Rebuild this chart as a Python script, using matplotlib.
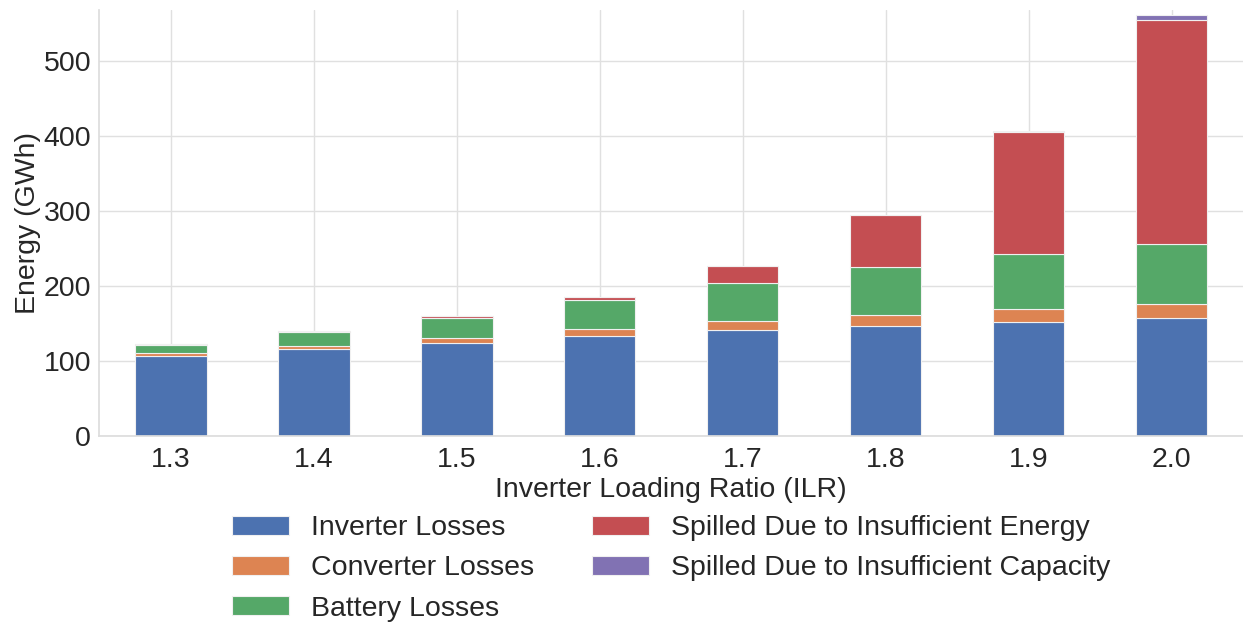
import matplotlib
matplotlib.use("Agg")
import matplotlib.pyplot as plt
import seaborn as sns
import numpy as np

sns.set_theme(style="whitegrid", palette="deep")
plt.rcParams['font.family'] = ['Liberation Sans', 'DejaVu Sans']

ilr = ["1.3", "1.4", "1.5", "1.6", "1.7", "1.8", "1.9", "2.0"]
inverter_losses = [107.5, 116, 124, 133.7, 140.9, 146.7, 152.4, 157]
converter_losses = [4, 4.4, 7, 9.3, 12.4, 15.3, 17.4, 19.4]
battery_losses = [10.5, 18.3, 25.9, 37.9, 50.7, 63, 72.9, 80]
spilled_energy = [0.5, 1.3, 3.1, 5.1, 22.7, 70, 163, 298.6]
spilled_capacity = [0, 0, 0, 0, 0, 0, 0.5, 6]

series = [
    ("Inverter Losses", inverter_losses),
    ("Converter Losses", converter_losses),
    ("Battery Losses", battery_losses),
    ("Spilled Due to Insufficient Energy", spilled_energy),
    ("Spilled Due to Insufficient Capacity", spilled_capacity),
]
colors = sns.color_palette("deep")

fig, ax = plt.subplots(figsize=(12.43, 6.24), dpi=100)
fig.subplots_adjust(left=0.08, right=1.0, top=0.984, bottom=0.301)

x = np.arange(len(ilr))
bottom = np.zeros(len(ilr))
for i, (name, vals) in enumerate(series):
    ax.bar(x, vals, width=0.5, bottom=bottom, color=colors[i], label=name,
           edgecolor="#f0f0f0", linewidth=0.8)
    bottom += np.array(vals)

fs = 20.5
ax.set_xlim(-0.5, 7.5)
ax.set_ylim(0, 568)
ax.set_xticks(x)
ax.set_xticklabels(ilr)
ax.set_yticks([0, 100, 200, 300, 400, 500])
ax.tick_params(axis="y", labelsize=fs, colors="#262626", length=0, pad=6)
ax.tick_params(axis="x", labelsize=fs, colors="#262626", length=0, pad=8)
ax.set_xlabel("Inverter Loading Ratio (ILR)", fontsize=fs, color="#262626", labelpad=3)
ax.set_ylabel("Energy (GWh)", fontsize=fs, color="#262626", labelpad=2)
ax.grid(True, color="#e0e0e0", linewidth=1)
ax.set_axisbelow(True)
for s in ["top", "right"]:
    ax.spines[s].set_visible(False)
for s in ["left", "bottom"]:
    ax.spines[s].set_color("#dddddd")

ax.legend(loc="upper center", bbox_to_anchor=(0.5, -0.125), ncol=2, frameon=False,
          fontsize=fs, handlelength=2.0, handleheight=0.65, handletextpad=0.8,
          columnspacing=2.0, labelspacing=0.5)

fig.savefig("out.png", dpi=100)
